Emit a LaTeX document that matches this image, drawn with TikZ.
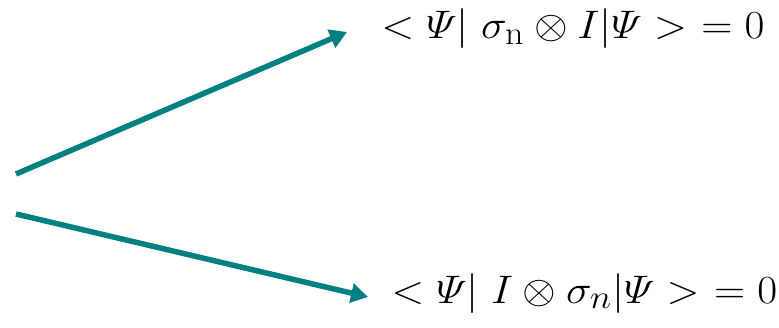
\documentclass[tikz,border=0pt]{standalone}
\usepackage{amsmath,amssymb}
\usetikzlibrary{arrows.meta}
\definecolor{tealarr}{RGB}{0,128,128}

\begin{document}
\begin{tikzpicture}[x=1pt,y=1pt,
    arr/.style={line width=5.5pt,tealarr,-{Triangle[length=17pt,width=19pt]}},
    eq/.style={anchor=base west,inner sep=0pt,xscale=1.74,yscale=1.6,transform shape,font=\fontsize{24.88}{30}\selectfont}]
        % рамка 779x327
        \useasboundingbox (0,0) rectangle (779,327);

        % початки та кінці стрілок
        \coordinate (S1) at (16,153);
        \coordinate (T1) at (347,295);
        \coordinate (S2) at (16,113);
        \coordinate (T2) at (368,30);

        \node[eq] (up) at (381,288) {$<\varPsi|\;\sigma_{\mathrm{n}}\otimes I|\varPsi>\mkern-4mu{}=0$};
        \node[eq] (down) at (391,24) {$<\varPsi|\;I\otimes\sigma_{n}|\varPsi>\mkern-4mu{}=0$};

        \draw[arr] (S1) -- (T1); % верхня
        \draw[arr] (S2) -- (T2); % нижня
    \end{tikzpicture}
\end{document}
